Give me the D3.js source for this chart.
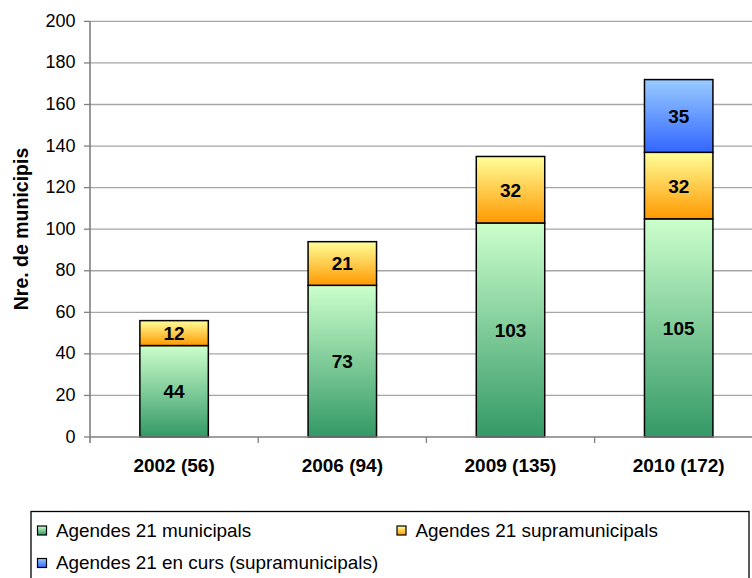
<!DOCTYPE html>
<html>
<head>
<meta charset="utf-8">
<script src="https://cdn.jsdelivr.net/npm/d3@7"></script>
<style>
  body { margin: 0; background: #fff; }
  text { font-family: "Liberation Sans", Arial, sans-serif; fill: #000; }
</style>
</head>
<body>
<script>
    // data
    var categories = ["2002 (56)", "2006 (94)", "2009 (135)", "2010 (172)"];
    var municipals = [44, 73, 103, 105];
    var supramunicipals = [12, 21, 32, 32];
    var enCurs = [0, 0, 0, 35];
    var yTicks = [0, 20, 40, 60, 80, 100, 120, 140, 160, 180, 200];
    var seriesNames = ["Agendes 21 municipals", "Agendes 21 supramunicipals", "Agendes 21 en curs (supramunicipals)"];

    var width = 752, height = 578;

    var svg = d3.select("body").append("svg")
        .attr("width", width)
        .attr("height", height);

    var defs = svg.append("defs");
    var grads = [
        {id: "gGreen", top: "#ccffcc", bottom: "#339966"},
        {id: "gOrange", top: "#ffff99", bottom: "#ff9900"},
        {id: "gBlue", top: "#99ccff", bottom: "#3366ff"}
    ];
    grads.forEach(function(g) {
        var lg = defs.append("linearGradient").attr("id", g.id)
            .attr("x1", 0).attr("y1", 0).attr("x2", 0).attr("y2", 1);
        lg.append("stop").attr("offset", "0%").attr("stop-color", g.top);
        lg.append("stop").attr("offset", "100%").attr("stop-color", g.bottom);
    });

    var x = d3.scaleBand()
        .domain(categories)
        .range([90, 762.8])
        .paddingInner(0.593)
        .paddingOuter(0.2965);

    var y = d3.scaleLinear()
        .domain([0, 200])
        .range([437, 21.4]);

    // gridlines
    svg.append("g").selectAll("line")
        .data(yTicks.filter(function(d) { return d > 0; }))
        .enter().append("line")
        .attr("x1", 90).attr("x2", width)
        .attr("y1", function(d) { return y(d); })
        .attr("y2", function(d) { return y(d); })
        .attr("stroke", "#a6a6a6")
        .attr("stroke-width", 1.3);

    // y axis
    svg.append("line")
        .attr("x1", 90).attr("x2", 90)
        .attr("y1", y(200)).attr("y2", y(0) + 6)
        .attr("stroke", "#7f7f7f").attr("stroke-width", 1.6);
    svg.append("g").selectAll("line")
        .data(yTicks)
        .enter().append("line")
        .attr("x1", 84).attr("x2", 90)
        .attr("y1", function(d) { return y(d); })
        .attr("y2", function(d) { return y(d); })
        .attr("stroke", "#7f7f7f").attr("stroke-width", 1.3);
    svg.append("g").selectAll("text")
        .data(yTicks)
        .enter().append("text")
        .attr("x", 75.5)
        .attr("y", function(d) { return y(d) + 5.5; })
        .attr("text-anchor", "end")
        .attr("font-size", "18px")
        .text(function(d) { return d; });

    svg.append("text")
        .attr("transform", "translate(28,229) rotate(-90)")
        .attr("text-anchor", "middle")
        .attr("font-size", "19.5px")
        .attr("font-weight", "bold")
        .text("Nre. de municipis");

    // stacked bars
    var layers = [
        {values: municipals, fill: "url(#gGreen)"},
        {values: supramunicipals, fill: "url(#gOrange)"},
        {values: enCurs, fill: "url(#gBlue)"}
    ];
    var segs = [];
    categories.forEach(function(c, i) {
        var base = 0;
        layers.forEach(function(l) {
            var v = l.values[i];
            if (v > 0) segs.push({cat: c, y0: base, y1: base + v, v: v, fill: l.fill});
            base += v;
        });
    });

    var bars = svg.append("g");
    bars.selectAll("rect")
        .data(segs)
        .enter().append("rect")
        .attr("x", function(d) { return x(d.cat); })
        .attr("width", x.bandwidth())
        .attr("y", function(d) { return y(d.y1); })
        .attr("height", function(d) { return y(d.y0) - y(d.y1); })
        .attr("fill", function(d) { return d.fill; })
        .attr("stroke", "#000")
        .attr("stroke-width", 1.5);

    bars.selectAll("text")
        .data(segs)
        .enter().append("text")
        .attr("x", function(d) { return x(d.cat) + x.bandwidth() / 2; })
        .attr("y", function(d) { return (y(d.y0) + y(d.y1)) / 2 + 7; })
        .attr("text-anchor", "middle")
        .attr("font-size", "19px")
        .attr("font-weight", "bold")
        .text(function(d) { return d.v; });

    // x axis
    svg.append("line")
        .attr("x1", 90).attr("x2", width)
        .attr("y1", y(0)).attr("y2", y(0))
        .attr("stroke", "#7f7f7f").attr("stroke-width", 1.6);
    var step = x.step();
    svg.append("g").selectAll("line")
        .data(categories)
        .enter().append("line")
        .attr("x1", function(d) { return x(d) - x.paddingOuter() * step + step; })
        .attr("x2", function(d) { return x(d) - x.paddingOuter() * step + step; })
        .attr("y1", y(0)).attr("y2", y(0) + 6)
        .attr("stroke", "#7f7f7f").attr("stroke-width", 1.3);
    svg.append("g").selectAll("text")
        .data(categories)
        .enter().append("text")
        .attr("x", function(d) { return x(d) + x.bandwidth() / 2; })
        .attr("y", 471.5)
        .attr("text-anchor", "middle")
        .attr("font-size", "19px")
        .attr("font-weight", "bold")
        .text(function(d) { return d; });

    // legend
    var legend = svg.append("g");
    legend.append("rect")
        .attr("x", 31).attr("y", 511.5)
        .attr("width", 718).attr("height", 80)
        .attr("fill", "#fff")
        .attr("stroke", "#000").attr("stroke-width", 1.3);
    var legendPos = [[37.5, 536.5], [397, 536.5], [37.5, 569]];
    var legendFills = ["url(#gGreen)", "url(#gOrange)", "url(#gBlue)"];
    var item = legend.selectAll("g.item")
        .data(seriesNames)
        .enter().append("g")
        .attr("class", "item")
        .attr("transform", function(d, i) { return "translate(" + legendPos[i][0] + "," + legendPos[i][1] + ")"; });
    item.append("rect")
        .attr("x", 0).attr("y", -10.5)
        .attr("width", 9).attr("height", 9)
        .attr("fill", function(d, i) { return legendFills[i]; })
        .attr("stroke", "#000").attr("stroke-width", 1.2);
    item.append("text")
        .attr("transform", "translate(18.5,0) scale(1.05,1)")
        .attr("font-size", "18px")
        .text(function(d) { return d; });
</script>
</body>
</html>
